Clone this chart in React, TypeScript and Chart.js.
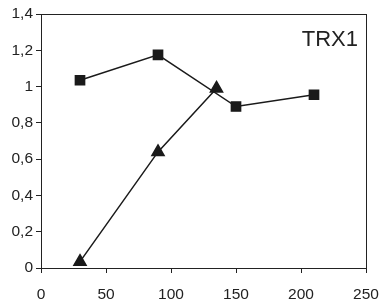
import React, { useEffect, useRef } from "react";
import { Chart, registerables } from "chart.js";

Chart.register(...registerables);

const squareX = [30, 90, 150, 210];
const squareY = [1.035, 1.175, 0.89, 0.955];
const triangleX = [30, 90, 135];
const triangleY = [0.035, 0.64, 0.99];
const xTicks = [0, 50, 100, 150, 200, 250];
const yTicks = [0, 0.2, 0.4, 0.6, 0.8, 1, 1.2, 1.4];
const chartTitle = "TRX1";

const fmt = (v: number) => String(Number(v.toFixed(1))).replace(".", ",");

const framePlugin = {
  id: "frame",
  afterDraw(chart: any) {
    const { ctx, chartArea } = chart;
    ctx.save();
    ctx.strokeStyle = "#222";
    ctx.lineWidth = 1;
    ctx.strokeRect(
      Math.round(chartArea.left) + 0.5,
      Math.round(chartArea.top) + 0.5,
      Math.round(chartArea.right - chartArea.left),
      Math.round(chartArea.bottom - chartArea.top)
    );
    ctx.fillStyle = "#222";
    ctx.font = "22px 'Liberation Sans', Arial, sans-serif";
    ctx.textAlign = "right";
    ctx.textBaseline = "middle";
    ctx.fillText(chartTitle, chartArea.right - 8, chartArea.top + 26);
    ctx.restore();
  },
};

export default function App() {
  const ref = useRef<HTMLCanvasElement | null>(null);
  useEffect(() => {
    if (!ref.current) return;
    const font = { family: "'Liberation Sans', Arial, sans-serif", size: 15.5 };
    const chart = new Chart(ref.current, {
      type: "scatter",
      data: {
        datasets: [
          {
            data: squareX.map((x, i) => ({ x, y: squareY[i] })),
            showLine: true,
            borderColor: "#1a1a1a",
            backgroundColor: "#1a1a1a",
            borderWidth: 1.5,
            pointStyle: "rect",
            pointRadius: 6.5,
          },
          {
            data: triangleX.map((x, i) => ({ x, y: triangleY[i] })),
            showLine: true,
            borderColor: "#1a1a1a",
            backgroundColor: "#1a1a1a",
            borderWidth: 1.5,
            pointStyle: "triangle",
            pointRadius: 7,
          },
        ],
      },
      options: {
        animation: false,
        responsive: false,
        maintainAspectRatio: false,
        layout: { padding: { left: 0, right: 15, top: 14, bottom: 0 } },
        plugins: { legend: { display: false }, tooltip: { enabled: false }, title: { display: false } },
        scales: {
          x: {
            type: "linear",
            min: 0,
            max: 250,
            afterBuildTicks: (s: any) => { s.ticks = xTicks.map((v) => ({ value: v })); },
            afterFit: (s: any) => { s.height = 39; s.paddingLeft = 0; s.paddingRight = 0; },
            ticks: { color: "#222", font, padding: 12, maxRotation: 0, callback: (v: any) => String(v) },
            grid: { drawOnChartArea: false, drawTicks: true, tickLength: 5, color: "#222" },
            border: { display: true, color: "#222" },
          },
          y: {
            type: "linear",
            min: 0,
            max: 1.4,
            afterBuildTicks: (s: any) => { s.ticks = yTicks.map((v) => ({ value: v })); },
            afterFit: (s: any) => { s.width = 41; s.paddingTop = 0; s.paddingBottom = 0; },
            ticks: { color: "#222", font, padding: 3, callback: (v: any) => fmt(Number(v)) },
            grid: { drawOnChartArea: false, drawTicks: true, tickLength: 5, color: "#222" },
            border: { display: true, color: "#222" },
          },
        },
      },
      plugins: [framePlugin],
    } as any);
    return () => chart.destroy();
  }, []);
  return (
    <div style={{ position: "fixed", left: 0, top: 0, width: 381, height: 307, background: "#fff" }}>
      <canvas ref={ref} width={381} height={307} />
    </div>
  );
}
